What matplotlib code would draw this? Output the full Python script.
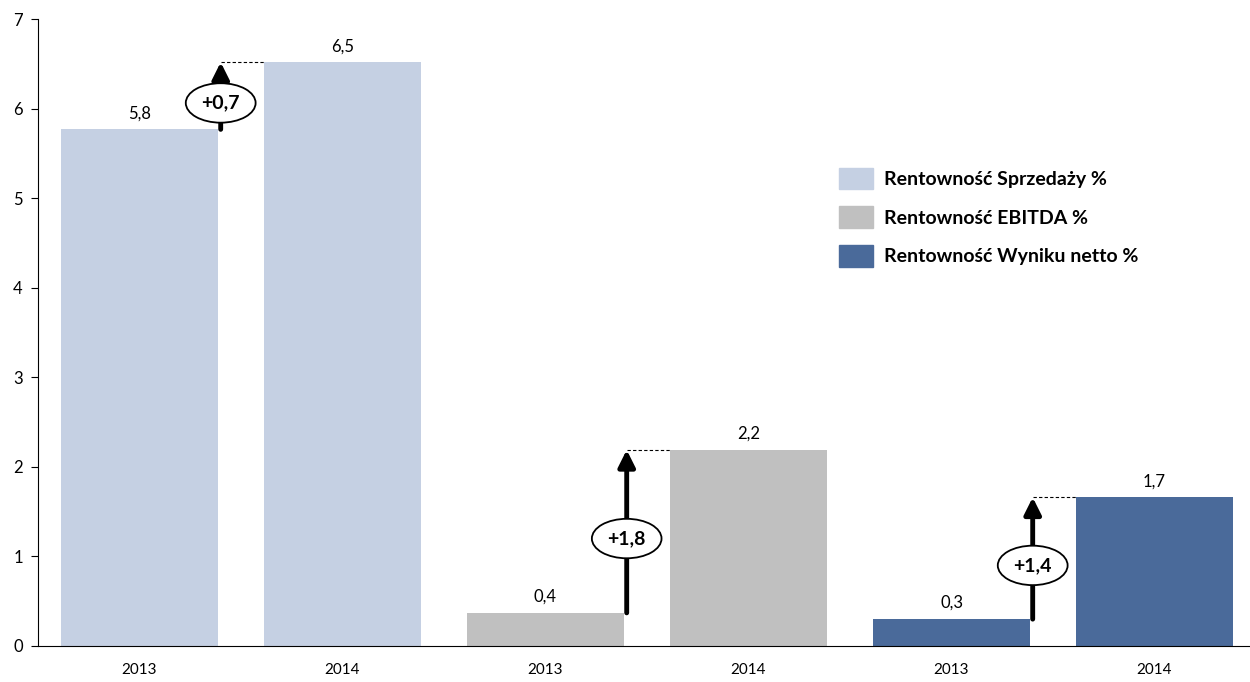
import numpy as np
import matplotlib.pyplot as plt
from matplotlib.patches import Patch

# data
years = ["2013", "2014", "2013", "2014", "2013", "2014"]
values = [5.77, 6.52, 0.37, 2.19, 0.30, 1.66]
value_labels = ["5,8", "6,5", "0,4", "2,2", "0,3", "1,7"]
diff_labels = ["+0,7", "+1,8", "+1,4"]
series = ["Rentowność Sprzedaży %", "Rentowność EBITDA %", "Rentowność Wyniku netto %"]
colors = ["#C5D0E3", "#C0C0C0", "#4A6A9A"]

plt.rcParams['font.family'] = ['Lato', 'DejaVu Sans']

fig = plt.figure(figsize=(12.5, 6.82), dpi=100)
ax = fig.add_axes([0.0304, 0.0528, 0.9744, 0.919])

x = np.arange(len(values))
bar_w = 0.77
bar_colors = [colors[i // 2] for i in range(len(values))]
ax.bar(x, values, width=bar_w, color=bar_colors, zorder=2)

for xi, v, lab in zip(x, values, value_labels):
    ax.text(xi, v + 0.09, lab, ha="center", va="bottom", fontsize=12)

# change arrows between 2013 and 2014
for k in range(3):
    i0, i1 = 2 * k, 2 * k + 1
    ax_x = i0 + bar_w / 2 + 0.015
    y0, y1 = values[i0], values[i1]
    ax.plot([ax_x, i1 - bar_w / 2], [y1, y1], ls=(0, (3, 2)), color="black", lw=0.8, zorder=3)
    ax.annotate("", xy=(ax_x, y1), xytext=(ax_x, y0),
                arrowprops=dict(arrowstyle="-|>,head_length=1.0,head_width=0.5",
                                color="black", lw=3.5, shrinkA=0, shrinkB=0), zorder=4)
    ym = (y0 + y1) / 2 - 0.08
    ax.text(ax_x, ym, diff_labels[k], ha="center", va="center", fontsize=14, fontweight="bold",
            bbox=dict(boxstyle="ellipse,pad=0.28", fc="white", ec="black", lw=1.3), zorder=5)

ax.set_xlim(-0.5, 5.5)
ax.set_ylim(0, 7)
ax.set_yticks(range(8))
ax.set_xticks(x)
ax.set_xticklabels(years)
ax.tick_params(axis="x", length=0, pad=12, labelsize=11)
ax.tick_params(axis="y", length=5, labelsize=12, pad=6)
ax.spines["top"].set_visible(False)
ax.spines["right"].set_visible(False)

handles = [Patch(color=c) for c in colors]
leg = ax.legend(handles, series, loc="upper left", bbox_to_anchor=(0.643, 0.791), frameon=False,
                prop=dict(size=14, weight="bold"), handlelength=1.75, handleheight=1.34,
                labelspacing=0.87, handletextpad=0.57)

fig.savefig("out.png", dpi=100)
